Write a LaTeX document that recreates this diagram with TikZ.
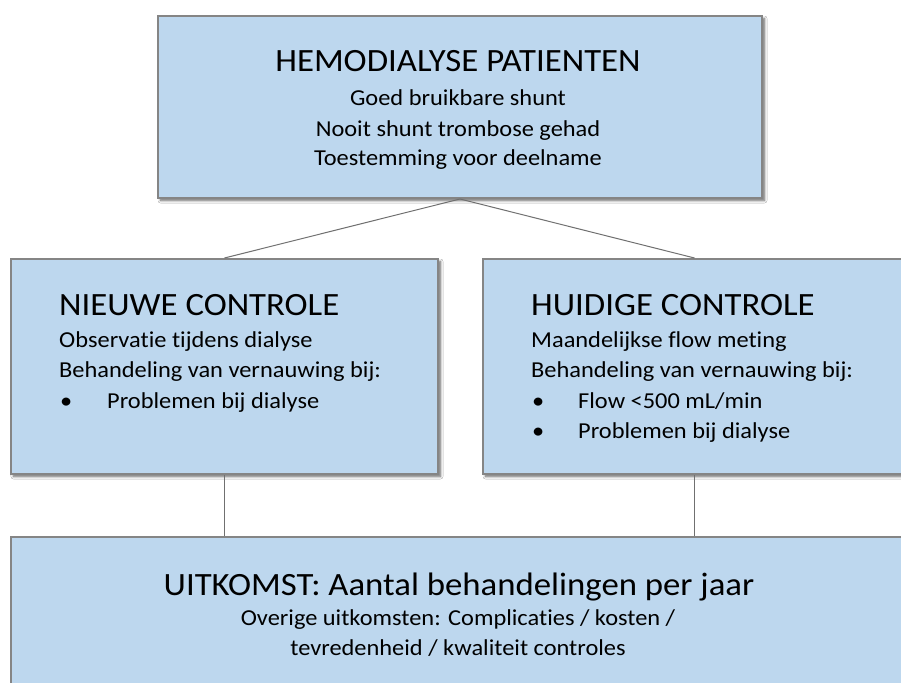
\documentclass[tikz,border=0pt]{standalone}
\usepackage{fontspec}
\setmainfont{Carlito}[FakeStretch=1.07, Ligatures=NoCommon]
\usetikzlibrary{shadows.blur}
\definecolor{boxfill}{HTML}{BDD7EE}
\definecolor{boxline}{HTML}{858585}
\definecolor{connline}{HTML}{707070}
\begin{document}
\begin{tikzpicture}[x=1pt,y=-1pt,
  box/.style={draw=boxline, line width=2pt, fill=boxfill, inner sep=0pt, anchor=north west,
    blur shadow={shadow xshift=2.5pt, shadow yshift=-2.5pt, shadow blur steps=6, shadow blur radius=2.5pt, shadow opacity=60}},
  connector/.style={draw=connline, line width=1pt},
  ttl/.style={font=\fontsize{32.5}{38}\selectfont, inner sep=0pt},
  body/.style={font=\fontsize{22.8}{27}\selectfont, inner sep=0pt},
]
\useasboundingbox (0,0) rectangle (901,682);
\clip (0,0) rectangle (901,682);
\fill[white] (0,0) rectangle (901,682);

% boxes
\node[box, minimum width=604pt, minimum height=182pt] (top) at (157,15) {};
\node[box, minimum width=427pt, minimum height=215pt] (left) at (10,258) {};
\node[box, minimum width=423pt, minimum height=215pt] (right) at (482,258) {};
\node[box, minimum width=920pt, minimum height=170pt] (bottom) at (10,536) {};

% connectors
\draw[connector] (top.south) -- (left.north);
\draw[connector] (top.south) -- (right.north);
\draw[connector] (left.south) -- (left.south |- bottom.north);
\draw[connector] (right.south) -- (right.south |- bottom.north);

% top text
\node[ttl, anchor=base] (t0) at (458,72) {HEMODIALYSE PATIENTEN};
\node[body, anchor=base] (t1) at (458,106) {Goed bruikbare shunt};
\node[body, anchor=base] (t2) at (458,136) {Nooit shunt trombose gehad};
\node[body, anchor=base] (t3) at (458,165) {Toestemming voor deelname};

% left text
\node[ttl, anchor=base west] (l0) at (59,315) {NIEUWE CONTROLE};
\node[body, anchor=base west] (l1) at (59,347) {Observatie tijdens dialyse};
\node[body, anchor=base west] (l2) at (59,377) {Behandeling van vernauwing bij:};
\node[body, anchor=base west] (lb1) at (60,408) {•};
\node[body, anchor=base west] (l3) at (107,408) {Problemen bij dialyse};

% right text
\node[ttl, anchor=base west] (r0) at (531,315) {HUIDIGE CONTROLE};
\node[body, anchor=base west] (r1) at (531,347) {Maandelijkse flow meting};
\node[body, anchor=base west] (r2) at (531,377) {Behandeling van vernauwing bij:};
\node[body, anchor=base west] (rb1) at (532,408) {•};
\node[body, anchor=base west] (r3) at (578,408) {Flow <500 mL/min};
\node[body, anchor=base west] (rb2) at (532,438) {•};
\node[body, anchor=base west] (r4) at (578,438) {Problemen bij dialyse};

% bottom text
\node[ttl, anchor=base] (b0) at (459,595) {UITKOMST: Aantal behandelingen per jaar};
\node[body, anchor=base] (b1) at (458,625) {Overige uitkomsten: Complicaties / kosten /};
\node[body, anchor=base] (b2) at (458,655) {tevredenheid / kwaliteit controles};
\end{tikzpicture}
\end{document}
